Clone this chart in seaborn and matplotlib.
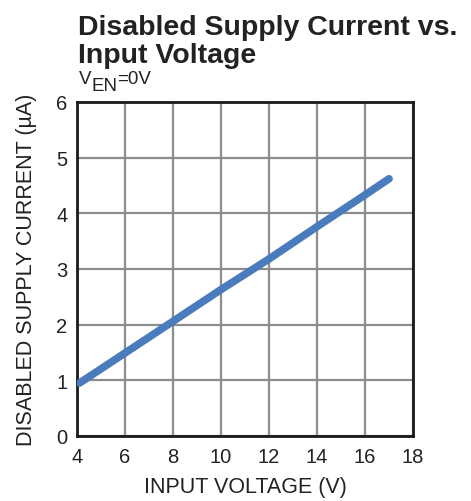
import numpy as np
import pandas as pd
import matplotlib
matplotlib.use("Agg")
import matplotlib.pyplot as plt
import seaborn as sns

# values
input_voltage = [4.1, 6, 8, 10, 12, 14, 16, 17]
supply_current = [0.95, 1.49, 2.06, 2.63, 3.18, 3.76, 4.33, 4.62]
x_ticks = [4, 6, 8, 10, 12, 14, 16, 18]
y_ticks = [0, 1, 2, 3, 4, 5, 6]

df = pd.DataFrame({"vin": input_voltage, "iq": supply_current})

sns.set_style("white")
plt.rcParams["font.family"] = ["Liberation Sans", "DejaVu Sans"]

W, H = 471, 502
fig = plt.figure(figsize=(W / 100, H / 100), dpi=100)
ax = fig.add_axes([0.1635, 0.1295, 0.7135, 0.6655])

sns.lineplot(data=df, x="vin", y="iq", ax=ax, color="#4a7cbd", linewidth=5.5,
             solid_capstyle="round", zorder=3)

ax.set_xlim(4, 18)
ax.set_ylim(0, 6)
ax.set_xticks(x_ticks)
ax.set_yticks(y_ticks)
ax.tick_params(axis="both", labelsize=14.5, length=0, colors="#222222")
ax.tick_params(axis="x", pad=8)
ax.tick_params(axis="y", pad=7)
ax.grid(True, color="#8c8c8c", linewidth=1.6, zorder=1)
ax.set_axisbelow(True)
for s in ax.spines.values():
    s.set_color("#1a1a1a")
    s.set_linewidth(2)
    s.set_visible(True)

ax.set_xlabel("INPUT VOLTAGE (V)", fontsize=15.5, color="#222222", labelpad=7)
ax.set_ylabel("DISABLED SUPPLY CURRENT (µA)", fontsize=15.5, color="#222222", labelpad=14)

# title in two lines
fig.text(0.166, 1 - 35 / H, "Disabled Supply Current vs.", fontsize=20.5,
         fontweight="bold", color="#222222", va="baseline", ha="left")
fig.text(0.166, 1 - 63 / H, "Input Voltage", fontsize=20.5,
         fontweight="bold", color="#222222", va="baseline", ha="left")

# condition line: V, subscript EN (same size, dropped), =0V
renderer = fig.canvas.get_renderer()
x_px = 79
parts = [("V", 84), ("EN", 91), ("=0V", 84)]
for txt, base in parts:
    t = fig.text(x_px / W, 1 - base / H, txt, fontsize=13.5, color="#222222",
                 va="baseline", ha="left")
    x_px += t.get_window_extent(renderer).width

fig.savefig("out.png", dpi=100)
